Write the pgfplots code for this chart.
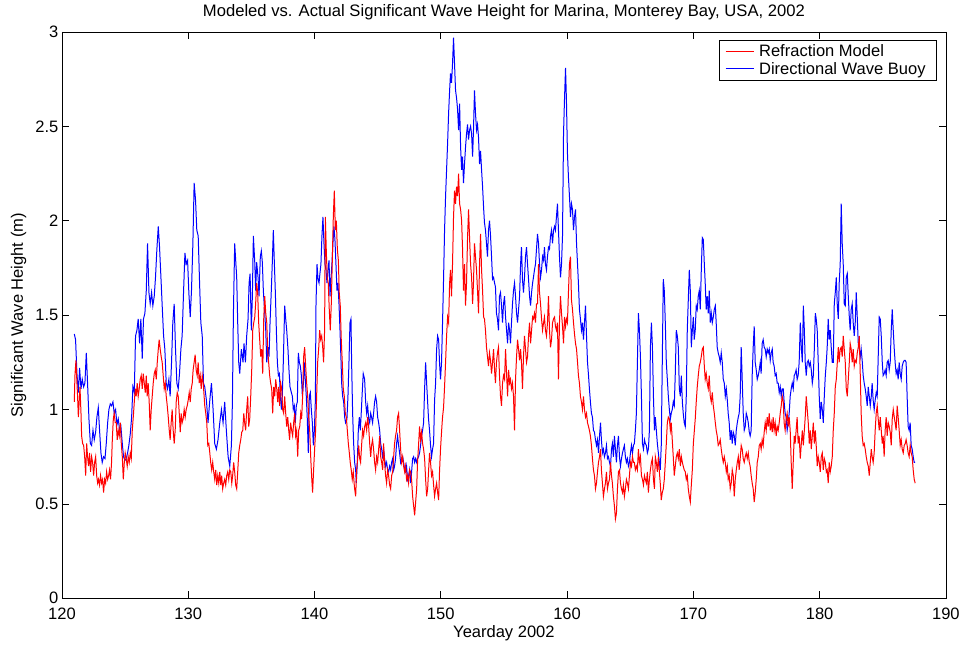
\documentclass[border=0pt]{standalone}
\usepackage{fontspec}
\setmainfont{Liberation Sans}
\usepackage{pgfplots}
\pgfplotsset{compat=1.18}
\begin{document}
\begin{tikzpicture}
\begin{axis}[
  scale only axis, width=885bp, height=567bp,
  xmin=120, xmax=190, ymin=0, ymax=3,
  xtick={120,130,...,190}, ytick={0,0.5,1,1.5,2,2.5,3},
  xtick pos=both, ytick pos=both, xticklabel pos=lower, yticklabel pos=left,
  tick align=inside, major tick length=7bp,
  tick style={black, line width=0.6pt},
  axis line style={black, line width=0.6pt},
  /pgf/number format/assume math mode=true,
  every tick label/.append style={font=\fontsize{16.6}{19}\selectfont},
  xticklabel style={anchor=base, yshift=-21.5bp},
  label style={font=\fontsize{16.6}{19}\selectfont},
  xlabel={Yearday 2002},
  xlabel style={at={(axis description cs:0.5,-0.0688)}, anchor=base},
  ylabel={Significant Wave Height (m)},
  ylabel style={at={(axis description cs:-0.0441,0.5)}, anchor=base, rotate=0},
  title={Modeled vs. Actual Significant Wave Height for Marina, Monterey Bay, USA, 2002},
  title style={font=\fontsize{16.7}{19}\selectfont, at={(axis description cs:0.5,1.0176)}, anchor=base},
  legend style={at={(axis description cs:0.9898,0.9859)}, anchor=north east, draw=black, line width=0.6pt, fill=white, font=\fontsize{16.6}{19}\selectfont, row sep=0bp, inner xsep=6bp, inner ysep=2.5bp, nodes={inner xsep=5bp, inner ysep=2bp}},
  legend cell align=left,
  legend image code/.code={\draw[#1, line width=1bp] (0bp,0bp) -- (28bp,0bp);},
]
\coordinate (SW) at (rel axis cs:0,0);
\coordinate (NE) at (rel axis cs:1,1);
\addplot[blue, line width=1bp, forget plot] coordinates {
(120.98,1.40)(121.08,1.37)(121.19,1.19)(121.30,1.09)(121.40,1.22)(121.51,1.11)(121.61,1.16)(121.72,1.12)(121.82,1.14)(121.93,1.30)(122.03,1.14)(122.14,0.95)(122.25,0.82)(122.35,0.81)(122.46,0.89)(122.56,0.84)(122.67,0.88)(122.77,0.96)(122.88,1.01)(122.98,0.89)(123.09,0.77)(123.19,0.72)(123.30,0.75)(123.41,0.74)(123.51,0.82)(123.62,0.93)(123.72,1.00)(123.83,1.03)(123.93,1.02)(124.04,1.04)(124.14,0.98)(124.25,1.00)(124.36,0.92)(124.46,0.95)(124.57,0.89)(124.67,0.91)(124.78,0.82)(124.88,0.75)(124.99,0.73)(125.09,0.74)(125.20,0.77)(125.30,0.81)(125.41,0.87)(125.52,0.96)(125.62,1.12)(125.73,1.09)(125.83,1.39)(125.94,1.42)(126.04,1.48)(126.15,1.35)(126.25,1.48)(126.36,1.27)(126.46,1.48)(126.57,1.51)(126.68,1.63)(126.78,1.88)(126.89,1.62)(126.99,1.56)(127.10,1.62)(127.20,1.55)(127.31,1.60)(127.41,1.70)(127.52,1.85)(127.63,1.97)(127.73,1.86)(127.84,1.70)(127.94,1.55)(128.05,1.39)(128.15,1.32)(128.26,1.14)(128.36,1.11)(128.47,1.16)(128.57,1.07)(128.68,1.25)(128.78,1.46)(128.89,1.56)(128.99,1.33)(129.10,1.14)(129.21,1.11)(129.31,1.19)(129.42,1.32)(129.52,1.39)(129.63,1.62)(129.74,1.83)(129.84,1.77)(129.95,1.79)(130.05,1.62)(130.16,1.49)(130.26,1.63)(130.37,1.88)(130.47,2.20)(130.58,2.11)(130.68,1.95)(130.79,1.92)(130.90,1.67)(131.00,1.46)(131.11,1.39)(131.21,1.14)
(131.31,1.12)(131.44,1.05)(131.57,0.93)(131.71,1.05)(131.84,1.14)(131.97,1.00)(132.10,0.82)(132.23,0.79)(132.36,0.84)(132.50,0.93)(132.63,1.00)(132.76,0.93)(132.89,1.04)(133.02,0.89)(133.16,0.75)(133.29,0.70)(133.42,0.81)(133.50,1.04)(133.58,1.51)(133.68,1.88)(133.76,1.79)(133.84,1.70)(133.92,1.46)(134.00,1.25)(134.08,1.19)(134.21,1.32)(134.34,1.25)(134.42,1.35)(134.53,1.25)(134.63,1.39)(134.74,1.48)(134.82,1.67)(134.90,1.72)(135.00,1.42)(135.08,1.60)(135.16,1.92)(135.27,1.78)(135.34,1.63)(135.42,1.78)(135.53,1.70)(135.61,1.60)(135.71,1.81)(135.79,1.84)(135.87,1.78)(135.95,1.63)(136.06,1.51)(136.14,1.42)(136.22,1.25)(136.32,1.33)(136.40,1.28)(136.48,1.46)(136.58,1.63)(136.66,1.78)(136.74,1.95)(136.82,1.78)(136.90,1.62)(136.98,1.42)(137.06,1.25)(137.14,1.18)(137.22,1.19)(137.30,1.07)(137.38,1.00)(137.45,1.07)(137.53,1.25)(137.64,1.55)(137.72,1.48)(137.80,1.42)(137.90,1.32)(137.98,1.21)(138.06,1.12)(138.17,1.09)(138.25,1.07)(138.32,1.00)(138.40,1.02)(138.48,0.93)(138.56,1.02)(138.64,1.04)(138.72,1.30)(138.80,1.25)(138.88,1.23)(138.96,1.18)(139.04,1.07)(139.12,1.14)(139.20,1.25)(139.27,1.16)(139.35,1.07)(139.43,0.95)(139.51,0.77)(139.59,1.07)(139.67,1.09)(139.75,1.00)(139.83,0.93)(139.91,0.81)(139.99,0.89)(140.07,1.05)(140.12,1.56)(140.20,1.77)(140.28,1.69)(140.36,1.67)(140.43,1.72)(140.51,1.77)(140.59,1.92)(140.67,2.02)(140.75,1.88)(140.83,1.77)(140.91,1.74)(140.99,1.67)(141.07,1.74)(141.15,1.79)(141.23,1.60)(141.30,1.69)(141.38,1.77)(141.46,1.88)(141.54,1.97)(141.62,1.90)(141.70,1.77)(141.78,1.63)(141.86,1.67)(141.94,1.56)(142.02,1.42)(142.10,1.26)(142.15,1.14)(142.23,1.07)(142.31,1.04)(142.39,0.96)(142.46,0.93)(142.57,0.95)(142.65,1.07)(142.73,1.25)(142.81,1.46)(142.89,1.48)(142.94,1.25)(143.02,0.98)(143.10,0.82)(143.18,0.72)(143.26,0.68)(143.31,0.61)(143.39,0.72)(143.47,0.89)(143.55,0.96)(143.63,0.89)(143.70,0.98)(143.78,1.09)(143.86,1.19)(143.97,1.16)
(144.05,1.04)(144.13,0.98)(144.21,1.02)(144.29,0.95)(144.37,0.93)(144.45,0.98)(144.52,0.96)(144.60,0.93)(144.68,0.98)(144.76,1.04)(144.84,1.07)(144.92,1.04)(145.00,0.96)(145.08,0.93)(145.16,0.89)(145.24,0.82)(145.32,0.79)(145.40,0.74)(145.47,0.79)(145.55,0.74)(145.63,0.70)(145.71,0.72)(145.79,0.68)(145.87,0.67)(145.95,0.70)(146.03,0.68)(146.11,0.72)(146.19,0.74)(146.27,0.68)(146.34,0.70)(146.42,0.74)(146.50,0.82)(146.58,0.86)(146.66,0.81)(146.74,0.77)(146.82,0.72)(146.90,0.74)(146.98,0.75)(147.06,0.72)(147.14,0.68)(147.21,0.67)(147.29,0.70)(147.37,0.63)(147.45,0.65)(147.53,0.68)(147.61,0.61)(147.69,0.67)(147.77,0.74)(147.85,0.75)(147.93,0.72)(148.01,0.74)(148.09,0.72)(148.16,0.74)(148.24,0.75)(148.32,0.77)(148.40,0.81)(148.48,0.86)(148.56,0.89)(148.64,0.93)(148.72,1.11)(148.80,1.25)(148.88,1.14)(148.96,1.04)(149.03,0.95)(149.11,0.89)(149.19,0.81)(149.27,0.75)(149.35,0.79)(149.43,0.82)(149.51,1.05)(149.59,1.14)(149.67,1.32)(149.75,1.39)(149.83,1.37)(149.90,1.25)(149.98,1.16)(150.06,1.25)(150.14,1.46)(150.22,1.69)(150.30,1.95)(150.38,2.13)(150.46,2.27)(150.54,2.41)(150.62,2.57)(150.70,2.69)(150.77,2.78)(150.85,2.73)(150.93,2.83)(151.01,2.97)(151.09,2.83)(151.17,2.69)(151.25,2.65)(151.33,2.59)(151.41,2.48)(151.49,2.62)(151.57,2.39)(151.65,2.27)(151.72,2.34)(151.80,2.20)(151.88,2.30)(151.96,2.39)(152.04,2.46)(152.12,2.51)(152.20,2.43)(152.28,2.48)(152.36,2.50)(152.44,2.46)(152.52,2.34)(152.59,2.48)(152.67,2.69)(152.75,2.57)(152.83,2.48)(152.91,2.51)(152.99,2.44)(153.07,2.30)(153.15,2.37)(153.23,2.27)(153.31,2.18)(153.39,2.07)(153.46,1.99)(153.54,1.95)(153.62,1.88)(153.70,1.81)(153.78,1.95)(153.86,2.00)(153.94,1.92)(154.02,1.81)(154.10,1.69)(154.18,1.70)(154.26,1.67)(154.33,1.65)(154.41,1.51)(154.49,1.48)(154.57,1.42)(154.65,1.60)(154.73,1.62)(154.81,1.55)(154.89,1.46)(154.97,1.56)(155.05,1.60)
(155.13,1.49)(155.21,1.42)(155.29,1.35)(155.37,1.46)(155.45,1.42)(155.52,1.35)(155.60,1.46)(155.68,1.56)(155.76,1.63)(155.84,1.67)(155.92,1.60)(156.00,1.51)(156.08,1.46)(156.16,1.53)(156.24,1.60)(156.32,1.77)(156.39,1.86)(156.47,1.69)(156.55,1.62)(156.63,1.70)(156.71,1.81)(156.79,1.86)(156.87,1.77)(156.95,1.69)(157.03,1.60)(157.11,1.55)(157.19,1.62)(157.27,1.67)(157.34,1.70)(157.42,1.74)(157.50,1.77)(157.58,1.85)(157.66,1.93)(157.74,1.88)(157.82,1.77)(157.90,1.70)(157.98,1.74)(158.06,1.81)(158.14,1.79)(158.21,1.86)(158.29,1.77)(158.37,1.74)(158.45,1.81)(158.53,1.86)(158.61,1.85)(158.69,1.92)(158.77,1.95)(158.85,1.88)(158.93,1.95)(159.01,1.97)(159.08,1.95)(159.16,2.02)(159.24,2.09)(159.32,1.95)(159.40,1.81)(159.48,1.70)(159.56,1.77)(159.64,1.92)(159.72,2.46)(159.80,2.65)(159.88,2.81)(159.95,2.64)(160.03,2.36)(160.11,2.23)(160.19,2.13)(160.27,2.02)(160.35,2.09)(160.43,2.06)(160.51,1.95)(160.59,2.02)(160.67,2.06)(160.75,1.88)(160.83,1.77)(160.90,1.67)(160.98,1.53)(161.06,1.48)(161.14,1.42)(161.22,1.46)(161.30,1.37)(161.38,1.46)(161.46,1.55)(161.54,1.39)(161.62,1.25)(161.70,1.18)(161.77,1.11)(161.85,1.04)(161.93,0.98)(162.01,0.96)(162.09,0.89)(162.17,0.88)(162.25,0.84)(162.33,0.81)(162.41,0.84)(162.49,0.77)(162.57,0.86)(162.65,0.93)(162.72,0.84)(162.80,0.77)(162.88,0.79)(162.96,0.75)(163.04,0.77)(163.12,0.81)(163.20,0.74)(163.28,0.75)(163.36,0.72)(163.44,0.70)(163.52,0.79)(163.59,0.82)(163.67,0.75)(163.75,0.86)(163.83,0.79)(163.91,0.72)(163.99,0.81)(164.07,0.86)(164.15,0.75)(164.23,0.70)(164.31,0.74)(164.39,0.77)(164.46,0.79)(164.54,0.81)(164.62,0.75)(164.70,0.72)(164.78,0.74)(164.86,0.70)(164.94,0.72)(165.02,0.77)(165.10,0.81)(165.18,0.77)(165.26,0.81)(165.33,0.82)(165.41,0.89)(165.49,0.98)(165.57,1.25)(165.65,1.51)(165.73,1.42)(165.81,1.28)(165.89,1.07)(165.97,0.82)(166.05,0.79)(166.13,0.84)(166.20,0.82)(166.28,0.81)(166.36,0.77)(166.44,0.79)(166.52,0.89)(166.60,1.33)(166.68,1.46)(166.76,1.33)(166.84,1.07)(166.92,0.89)
(166.99,0.96)(167.07,0.89)(167.15,0.82)(167.23,0.77)(167.31,0.72)(167.38,0.68)(167.46,0.81)(167.54,1.25)(167.62,1.69)(167.70,1.63)(167.78,1.46)(167.86,1.25)(167.94,1.16)(168.02,1.07)(168.10,1.00)(168.18,0.95)(168.25,0.98)(168.33,1.00)(168.41,1.04)(168.49,1.02)(168.57,1.19)(168.65,1.42)(168.73,1.39)(168.81,1.33)(168.89,1.11)(168.97,1.07)(169.05,1.18)(169.13,1.04)(169.20,0.98)(169.28,0.93)(169.36,0.91)(169.44,1.07)(169.52,1.42)(169.60,1.58)(169.68,1.74)(169.76,1.63)(169.84,1.33)(169.92,1.42)(170.00,1.49)(170.07,1.37)(170.15,1.42)(170.23,1.55)(170.31,1.53)(170.39,1.60)(170.47,1.63)(170.55,1.53)(170.63,1.74)(170.71,1.91)(170.79,1.90)(170.87,1.77)(170.94,1.67)(171.02,1.53)(171.10,1.60)(171.18,1.51)(171.26,1.63)(171.34,1.46)(171.42,1.51)(171.50,1.46)(171.58,1.49)(171.66,1.53)(171.74,1.55)(171.81,1.46)(171.89,1.33)(171.97,1.30)(172.05,1.28)(172.13,1.25)(172.21,1.30)(172.29,1.25)(172.37,1.16)(172.45,1.14)(172.53,1.07)(172.61,1.11)(172.69,1.05)(172.76,0.98)(172.84,0.93)(172.92,0.84)(173.00,0.89)(173.08,0.82)(173.16,0.88)(173.24,0.86)(173.32,0.81)(173.40,0.89)(173.48,0.93)(173.56,0.96)(173.63,0.98)(173.71,1.07)(173.79,1.33)(173.87,1.16)(173.95,0.98)(174.03,0.89)(174.11,0.91)(174.19,0.98)(174.27,0.96)(174.35,0.93)(174.43,0.88)(174.50,0.86)(174.58,0.89)(174.66,1.18)(174.74,1.33)(174.82,1.44)(174.90,1.25)(174.98,1.21)(175.06,1.16)(175.14,1.18)(175.22,1.21)(175.30,1.25)(175.37,1.19)(175.45,1.35)(175.53,1.37)(175.61,1.33)(175.69,1.32)(175.77,1.28)(175.85,1.32)(175.93,1.30)(176.01,1.32)(176.09,1.26)(176.17,1.30)(176.25,1.32)(176.32,1.25)(176.40,1.23)(176.48,1.18)(176.56,1.19)(176.64,1.14)(176.72,1.14)(176.80,1.09)(176.88,1.12)(176.96,1.07)(177.04,1.11)(177.12,1.11)(177.19,1.04)(177.27,0.98)(177.35,0.96)(177.43,0.89)(177.51,0.93)(177.59,0.98)(177.67,1.07)(177.75,1.11)(177.83,1.14)(177.91,1.11)(177.99,1.18)(178.06,1.19)(178.14,1.21)(178.22,1.16)(178.30,1.18)(178.38,1.25)
(178.47,1.46)(178.55,1.33)(178.63,1.25)(178.71,1.55)(178.79,1.42)(178.86,1.25)(178.94,1.18)(179.02,1.25)(179.10,1.26)(179.18,1.23)(179.26,1.25)(179.34,1.21)(179.42,1.14)(179.50,1.18)(179.58,1.32)(179.66,1.51)(179.73,1.48)(179.81,1.42)(179.89,1.25)(179.97,1.07)(180.05,0.95)(180.13,1.04)(180.21,1.00)(180.29,0.93)(180.37,1.07)(180.45,1.18)(180.53,1.25)(180.60,1.33)(180.68,1.48)(180.76,1.37)(180.84,1.42)(180.92,1.33)(181.00,1.25)(181.08,1.25)(181.16,1.56)(181.24,1.62)(181.32,1.70)(181.40,1.55)(181.48,1.48)(181.55,1.67)(181.63,1.77)(181.71,2.09)(181.79,1.88)(181.87,1.77)(181.95,1.56)(182.03,1.55)(182.11,1.70)(182.19,1.72)(182.27,1.60)(182.35,1.49)(182.42,1.42)(182.50,1.53)(182.58,1.56)(182.66,1.46)(182.74,1.39)(182.82,1.46)(182.90,1.62)(182.98,1.49)(183.06,1.35)(183.14,1.32)(183.22,1.28)(183.29,1.32)(183.37,1.26)(183.45,1.18)(183.53,1.14)(183.61,1.11)(183.69,1.07)(183.77,1.02)(183.85,1.12)(183.93,1.07)(184.01,1.02)(184.09,1.07)(184.16,1.14)(184.24,1.05)(184.32,1.00)(184.40,1.05)(184.48,1.09)(184.56,1.07)(184.64,1.28)(184.72,1.49)(184.80,1.48)(184.88,1.39)(184.96,1.25)(185.03,1.18)(185.11,1.19)(185.19,1.21)(185.27,1.18)(185.35,1.25)(185.43,1.26)(185.51,1.21)(185.59,1.25)(185.67,1.42)(185.75,1.53)(185.83,1.42)(185.91,1.32)(185.98,1.25)(186.06,1.19)(186.14,1.21)(186.22,1.16)(186.30,1.25)(186.38,1.19)(186.46,1.16)(186.54,1.23)(186.62,1.25)(186.70,1.26)(186.78,1.26)(186.85,1.25)(186.93,1.07)(187.01,0.91)(187.09,0.89)(187.17,0.93)(187.25,0.81)(187.33,0.79)(187.41,0.75)(187.49,0.72)(187.57,0.72)
};
\addplot[red, line width=1bp] coordinates {
(120.98,1.04)(121.03,1.18)(121.11,1.26)(121.19,1.14)(121.24,1.07)(121.30,0.96)(121.35,1.02)(121.43,1.12)(121.51,0.98)(121.56,0.86)(121.64,0.82)(121.72,0.81)(121.80,0.75)(121.88,0.65)(121.96,0.82)(122.03,0.75)(122.11,0.70)(122.19,0.77)(122.27,0.67)(122.35,0.75)(122.43,0.72)(122.51,0.65)(122.59,0.72)(122.67,0.75)(122.75,0.65)(122.83,0.61)(122.90,0.63)(122.98,0.60)(123.06,0.65)(123.14,0.61)(123.22,0.63)(123.30,0.56)(123.38,0.63)(123.46,0.61)(123.54,0.67)(123.62,0.63)(123.70,0.65)(123.77,0.68)(123.85,0.63)(123.93,0.72)(123.99,0.84)(124.07,0.95)(124.14,0.98)(124.22,0.93)(124.30,0.93)(124.38,0.84)(124.46,0.89)(124.54,0.86)(124.62,0.93)(124.70,0.82)(124.78,0.75)(124.86,0.63)(124.94,0.72)(125.01,0.77)(125.09,0.74)(125.17,0.70)(125.25,0.75)(125.33,0.72)(125.41,0.77)(125.49,0.74)(125.57,0.89)(125.65,0.96)(125.73,1.04)(125.81,1.11)(125.88,1.07)(125.96,1.14)(126.04,1.07)(126.12,1.11)(126.20,1.16)(126.28,1.18)(126.36,1.11)(126.44,1.19)(126.52,1.14)(126.60,1.09)(126.68,1.18)(126.75,1.07)(126.83,1.14)(126.91,1.04)(126.99,0.89)(127.07,1.00)(127.15,1.07)(127.23,1.14)(127.31,1.19)(127.39,1.21)(127.47,1.16)(127.55,1.25)(127.63,1.32)(127.70,1.37)(127.78,1.32)(127.86,1.28)(127.94,1.25)(128.02,1.18)(128.10,1.11)(128.18,1.14)(128.26,1.07)(128.34,1.02)(128.42,0.96)(128.50,0.89)(128.57,0.84)(128.65,0.93)(128.73,1.00)(128.81,0.89)(128.89,0.82)(128.97,0.89)(129.05,1.04)(129.13,1.09)(129.21,1.07)(129.29,0.98)(129.37,0.88)(129.44,0.98)(129.52,0.93)(129.60,0.95)(129.68,1.00)(129.76,0.96)(129.84,1.00)(129.92,1.02)(130.00,1.05)(130.08,1.09)(130.16,1.04)(130.24,1.11)(130.32,1.14)(130.39,1.21)(130.47,1.25)(130.55,1.29)(130.63,1.21)(130.71,1.18)(130.79,1.25)(130.87,1.14)(130.95,1.18)(131.03,1.11)(131.11,1.18)(131.19,1.14)(131.26,1.07)
(131.31,1.02)(131.39,0.98)(131.47,0.93)(131.55,0.81)(131.63,0.82)(131.71,0.77)(131.78,0.72)(131.86,0.68)(131.94,0.72)(132.02,0.67)(132.10,0.63)(132.18,0.68)(132.26,0.60)(132.34,0.65)(132.42,0.61)(132.50,0.67)(132.58,0.60)(132.65,0.65)(132.73,0.58)(132.81,0.61)(132.89,0.63)(132.97,0.60)(133.05,0.65)(133.13,0.67)(133.21,0.63)(133.29,0.68)(133.37,0.67)(133.45,0.61)(133.52,0.65)(133.60,0.72)(133.68,0.67)(133.76,0.60)(133.84,0.58)(133.92,0.67)(134.00,0.77)(134.08,0.81)(134.16,0.84)(134.24,0.88)(134.32,0.89)(134.40,0.98)(134.47,0.93)(134.55,0.89)(134.63,1.00)(134.71,1.07)(134.79,0.91)(134.87,0.95)(134.95,1.07)(135.03,1.21)(135.11,1.42)(135.19,1.46)(135.27,1.49)(135.34,1.56)(135.42,1.67)(135.50,1.62)(135.58,1.46)(135.66,1.37)(135.74,1.28)(135.82,1.32)(135.90,1.19)(135.98,1.48)(136.06,1.60)(136.14,1.51)(136.22,1.46)(136.29,1.32)(136.37,1.25)(136.45,1.18)(136.53,1.14)(136.61,1.11)(136.69,0.98)(136.77,1.12)(136.85,1.07)(136.93,1.16)(137.01,1.11)(137.09,1.04)(137.16,1.12)(137.24,1.02)(137.32,1.14)(137.40,1.11)(137.48,1.00)(137.56,0.98)(137.64,1.07)(137.72,0.98)(137.80,0.91)(137.88,0.96)(137.96,0.89)(138.03,0.84)(138.11,0.93)(138.19,0.89)(138.27,0.86)(138.35,0.93)(138.43,0.98)(138.51,0.86)(138.59,0.89)(138.67,0.75)(138.75,0.89)(138.83,0.91)(138.91,0.98)(138.98,0.95)(139.06,1.07)(139.14,1.28)(139.22,1.33)(139.30,1.23)(139.38,1.14)(139.46,1.07)(139.54,0.96)(139.62,0.89)(139.70,0.75)(139.77,0.65)(139.85,0.56)(139.93,0.68)(140.01,0.79)(140.09,0.89)(140.17,1.07)(140.25,1.25)(140.33,1.32)(140.41,1.42)(140.49,1.37)(140.57,1.39)(140.65,1.33)(140.72,1.25)(140.80,1.42)(140.86,2.02)(140.94,1.83)(141.01,1.70)(141.09,1.67)(141.17,1.53)(141.25,1.42)(141.33,1.56)(141.41,1.79)(141.49,2.02)(141.57,2.16)(141.65,1.95)(141.73,2.00)(141.81,1.85)(141.89,1.79)(141.96,1.62)(142.04,1.55)(142.12,1.37)(142.20,1.25)(142.28,1.11)(142.36,1.07)(142.44,0.98)(142.52,0.96)(142.60,0.89)(142.68,0.82)(142.76,0.77)(142.83,0.72)(142.91,0.68)(142.99,0.63)(143.07,0.67)(143.15,0.60)
(143.18,0.58)(143.26,0.54)(143.34,0.68)(143.42,0.74)(143.50,0.81)(143.58,0.74)(143.65,0.72)(143.73,0.81)(143.81,0.89)(143.89,0.86)(143.97,0.91)(144.05,0.93)(144.13,0.89)(144.21,0.96)(144.29,0.91)(144.37,0.82)(144.45,0.75)(144.52,0.81)(144.60,0.84)(144.68,0.79)(144.76,0.72)(144.84,0.68)(144.92,0.75)(145.00,0.72)(145.08,0.79)(145.16,0.86)(145.24,0.75)(145.32,0.72)(145.40,0.68)(145.47,0.82)(145.55,0.72)(145.63,0.65)(145.71,0.61)(145.79,0.68)(145.87,0.65)(145.95,0.60)(146.03,0.58)(146.11,0.65)(146.19,0.67)(146.27,0.75)(146.34,0.82)(146.42,0.86)(146.50,0.89)(146.58,0.96)(146.66,0.98)(146.74,0.89)(146.82,0.79)(146.90,0.72)(146.98,0.75)(147.06,0.70)(147.14,0.67)(147.21,0.70)(147.29,0.63)(147.37,0.65)(147.45,0.61)(147.53,0.68)(147.61,0.67)(147.69,0.63)(147.77,0.54)(147.85,0.49)(147.93,0.44)(148.01,0.51)(148.09,0.58)(148.16,0.72)(148.24,0.81)(148.32,0.91)(148.40,0.84)(148.48,0.88)(148.56,0.82)(148.64,0.79)(148.72,0.74)(148.80,0.63)(148.88,0.54)(148.96,0.58)(149.03,0.67)(149.11,0.77)(149.19,0.72)(149.27,0.65)(149.35,0.67)(149.43,0.60)(149.51,0.54)(149.59,0.58)(149.67,0.61)(149.75,0.56)(149.83,0.52)(149.90,0.67)(149.98,0.79)(150.06,0.88)(150.14,0.96)(150.22,1.01)(150.30,1.12)(150.38,1.25)(150.46,1.39)(150.54,1.49)(150.62,1.46)(150.70,1.67)(150.77,1.74)(150.85,1.60)(150.93,1.77)(151.01,2.02)(151.09,2.16)(151.17,2.09)(151.25,2.18)(151.33,2.13)(151.41,2.25)(151.49,2.09)(151.57,2.06)(151.65,2.00)(151.72,1.86)(151.80,1.63)(151.88,1.77)(151.96,1.55)(152.04,1.67)(152.12,1.91)(152.20,2.06)(152.28,1.91)(152.36,1.77)(152.44,1.70)(152.52,1.56)(152.59,1.67)(152.67,1.88)(152.75,1.81)(152.83,1.74)(152.91,1.63)(152.99,1.51)(153.07,1.77)(153.15,1.93)(153.23,1.74)(153.31,1.63)(153.39,1.49)(153.46,1.48)(153.54,1.42)(153.62,1.33)(153.70,1.28)(153.78,1.23)(153.86,1.30)(153.94,1.26)(154.02,1.19)(154.10,1.25)(154.18,1.32)(154.26,1.21)(154.33,1.14)(154.41,1.25)(154.49,1.30)(154.57,1.33)(154.65,1.18)(154.73,1.07)(154.81,1.02)(154.89,1.14)(154.97,1.18)
(155.05,1.16)(155.13,1.32)(155.21,1.19)(155.29,1.07)(155.37,1.21)(155.45,1.14)(155.52,1.16)(155.60,1.11)(155.68,1.14)(155.76,1.07)(155.84,0.89)(155.92,1.16)(156.00,1.28)(156.08,1.37)(156.16,1.32)(156.24,1.26)(156.32,1.32)(156.39,1.25)(156.47,1.11)(156.55,1.28)(156.63,1.39)(156.71,1.32)(156.79,1.25)(156.87,1.28)(156.95,1.39)(157.03,1.46)(157.11,1.35)(157.19,1.42)(157.27,1.49)(157.34,1.48)(157.42,1.51)(157.50,1.46)(157.58,1.56)(157.66,1.56)(157.74,1.77)(157.82,1.62)(157.90,1.56)(157.98,1.48)(158.06,1.42)(158.14,1.46)(158.21,1.49)(158.29,1.42)(158.37,1.39)(158.45,1.46)(158.53,1.60)(158.61,1.42)(158.69,1.33)(158.77,1.37)(158.85,1.46)(158.93,1.48)(159.01,1.49)(159.08,1.44)(159.16,1.42)(159.24,1.46)(159.32,1.16)(159.40,1.46)(159.48,1.60)(159.56,1.51)(159.64,1.44)(159.72,1.35)(159.80,1.49)(159.88,1.44)(159.95,1.48)(160.03,1.46)(160.11,1.62)(160.19,1.77)(160.27,1.81)(160.35,1.58)(160.43,1.53)(160.51,1.46)(160.59,1.40)(160.67,1.35)(160.75,1.32)(160.83,1.25)(160.90,1.18)(160.98,1.14)(161.06,1.07)(161.14,1.04)(161.22,1.00)(161.30,1.07)(161.38,1.00)(161.46,0.96)(161.54,0.98)(161.62,0.93)(161.70,0.91)(161.77,0.89)(161.85,0.86)(161.93,0.81)(162.01,0.74)(162.09,0.68)(162.17,0.65)(162.25,0.58)(162.33,0.61)(162.41,0.67)(162.49,0.72)(162.57,0.75)(162.65,0.79)(162.72,0.68)(162.80,0.61)(162.88,0.54)(162.96,0.58)(163.04,0.61)(163.12,0.67)(163.20,0.58)(163.28,0.61)(163.36,0.63)(163.44,0.72)(163.52,0.65)(163.59,0.61)(163.67,0.54)(163.75,0.49)(163.83,0.42)(163.91,0.45)(163.99,0.58)(164.07,0.67)(164.15,0.68)(164.23,0.61)(164.31,0.58)(164.39,0.56)(164.46,0.60)(164.54,0.54)(164.62,0.58)(164.70,0.63)(164.78,0.61)(164.86,0.58)(164.94,0.65)(165.02,0.72)(165.10,0.70)(165.18,0.75)(165.26,0.72)(165.33,0.72)(165.41,0.68)(165.49,0.70)(165.57,0.68)(165.65,0.79)(165.73,0.72)(165.81,0.75)(165.89,0.65)(165.97,0.63)(166.05,0.60)(166.13,0.65)(166.20,0.63)(166.28,0.61)(166.36,0.67)(166.44,0.56)(166.52,0.63)(166.60,0.68)(166.68,0.72)(166.76,0.74)(166.84,0.63)(166.92,0.58)
(166.99,0.75)(167.07,0.72)(167.15,0.67)(167.23,0.75)(167.31,0.67)(167.38,0.61)(167.46,0.52)(167.54,0.56)(167.62,0.58)(167.70,0.63)(167.78,0.72)(167.86,0.82)(167.94,0.93)(168.02,0.96)(168.10,0.95)(168.18,0.89)(168.25,0.93)(168.33,0.84)(168.41,0.75)(168.49,0.65)(168.57,0.70)(168.65,0.75)(168.73,0.77)(168.81,0.74)(168.89,0.79)(168.97,0.70)(169.05,0.75)(169.13,0.72)(169.20,0.70)(169.28,0.68)(169.36,0.67)(169.44,0.63)(169.52,0.65)(169.60,0.58)(169.68,0.54)(169.76,0.51)(169.84,0.60)(169.92,0.68)(170.00,0.82)(170.07,0.88)(170.15,0.95)(170.23,1.04)(170.31,1.12)(170.39,1.18)(170.47,1.23)(170.55,1.25)(170.63,1.28)(170.71,1.32)(170.79,1.33)(170.87,1.23)(170.94,1.16)(171.02,1.19)(171.10,1.14)(171.18,1.11)(171.26,1.18)(171.34,1.07)(171.42,1.04)(171.50,1.09)(171.58,1.02)(171.66,0.98)(171.74,0.93)(171.81,0.89)(171.89,0.86)(171.97,0.81)(172.05,0.82)(172.13,0.84)(172.21,0.79)(172.29,0.75)(172.37,0.72)(172.45,0.75)(172.53,0.72)(172.61,0.67)(172.69,0.70)(172.76,0.63)(172.84,0.65)(172.92,0.58)(173.00,0.61)(173.08,0.68)(173.16,0.65)(173.24,0.54)(173.32,0.63)(173.40,0.68)(173.48,0.72)(173.56,0.75)(173.63,0.68)(173.71,0.74)(173.79,0.81)(173.87,0.79)(173.95,0.74)(174.03,0.72)(174.11,0.75)(174.19,0.77)(174.27,0.74)(174.35,0.77)(174.43,0.72)(174.50,0.70)(174.58,0.65)(174.66,0.61)(174.74,0.58)(174.82,0.51)(174.90,0.56)(174.98,0.63)(175.06,0.72)(175.14,0.75)(175.22,0.81)(175.30,0.82)(175.37,0.79)(175.45,0.84)(175.53,0.81)(175.61,0.88)(175.69,0.93)(175.77,0.89)(175.85,0.96)(175.93,0.91)(176.01,0.98)(176.09,0.89)(176.17,0.93)(176.25,0.88)(176.32,0.96)(176.40,0.89)(176.48,0.93)(176.56,0.86)(176.64,0.91)(176.72,0.89)(176.80,0.93)(176.88,0.98)(176.96,1.02)(177.04,1.07)(177.12,1.04)(177.19,0.93)(177.27,0.89)(177.35,0.95)(177.43,0.98)(177.51,0.91)(177.59,0.96)(177.67,0.89)(177.75,0.72)(177.83,0.58)(177.91,0.72)(177.99,0.86)(178.06,0.82)(178.14,0.89)(178.22,0.96)(178.30,0.82)(178.38,0.86)
(178.47,0.74)(178.55,0.82)(178.63,0.89)(178.71,0.81)(178.79,0.89)(178.86,0.96)(178.94,1.07)(179.02,1.00)(179.10,0.93)(179.18,0.82)(179.26,0.89)(179.34,0.79)(179.42,0.86)(179.50,0.93)(179.58,0.82)(179.66,0.89)(179.73,0.81)(179.81,0.70)(179.89,0.75)(179.97,0.72)(180.05,0.67)(180.13,0.75)(180.21,0.77)(180.29,0.68)(180.37,0.74)(180.45,0.72)(180.53,0.67)(180.60,0.68)(180.68,0.61)(180.76,0.72)(180.84,0.67)(180.92,0.70)(181.00,0.75)(181.08,0.89)(181.16,0.98)(181.24,1.12)(181.32,1.16)(181.40,1.25)(181.48,1.33)(181.55,1.25)(181.63,1.32)(181.71,1.33)(181.79,1.28)(181.87,1.39)(181.95,1.32)(182.03,1.25)(182.11,1.11)(182.19,1.07)(182.27,1.16)(182.35,1.25)(182.42,1.35)(182.50,1.32)(182.58,1.25)(182.66,1.32)(182.74,1.23)(182.82,1.26)(182.90,1.25)(182.98,1.30)(183.06,1.33)(183.14,1.39)(183.22,1.18)(183.29,0.98)(183.37,0.86)(183.45,0.81)(183.53,0.82)(183.61,0.79)(183.69,0.75)(183.77,0.72)(183.85,0.70)(183.93,0.65)(184.01,0.72)(184.09,0.79)(184.16,0.75)(184.24,0.72)(184.32,0.77)(184.40,0.89)(184.48,0.98)(184.56,1.02)(184.64,0.95)(184.72,0.89)(184.80,0.96)(184.88,0.89)(184.96,0.82)(185.03,0.86)(185.11,0.75)(185.19,0.89)(185.27,0.96)(185.35,0.86)(185.43,0.93)(185.51,0.91)(185.59,0.88)(185.67,0.81)(185.75,0.95)(185.83,1.00)(185.91,0.96)(185.98,0.93)(186.06,0.89)(186.14,1.02)(186.22,0.96)(186.30,0.89)(186.38,0.81)(186.46,0.84)(186.54,0.79)(186.62,0.77)(186.70,0.81)(186.78,0.82)(186.85,0.84)(186.93,0.81)(187.01,0.77)(187.09,0.75)(187.17,0.81)(187.25,0.77)(187.33,0.75)(187.41,0.68)(187.49,0.63)(187.57,0.61)
};
\addlegendentry{Refraction Model}
\addlegendimage{blue}
\addlegendentry{Directional Wave Buoy}
\end{axis}
\path (SW) ++(-62bp,-47bp) rectangle ([shift={(16bp,32bp)}]NE);
\end{tikzpicture}
\end{document}
